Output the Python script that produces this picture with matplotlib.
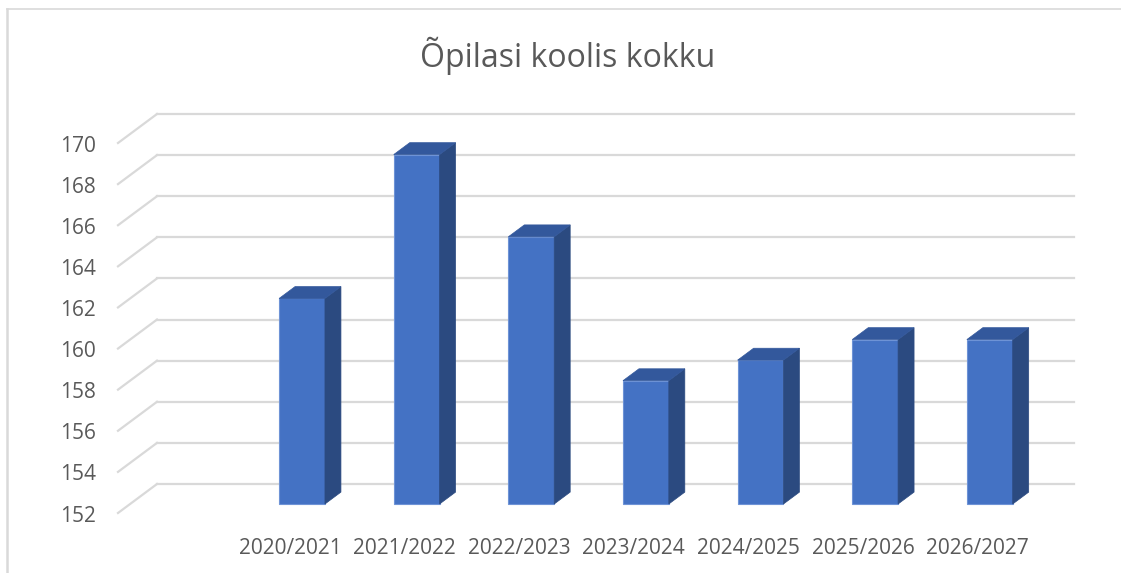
import matplotlib
matplotlib.use("Agg")
import matplotlib.pyplot as plt
from matplotlib.patches import Polygon, Rectangle
from matplotlib.transforms import ScaledTranslation
from matplotlib.lines import Line2D

# ---- data ----
categories = ["2020/2021", "2021/2022", "2022/2023", "2023/2024",
              "2024/2025", "2025/2026", "2026/2027"]
values = [162, 169, 165, 158, 159, 160, 160]
yticks = [152, 154, 156, 158, 160, 162, 164, 166, 168, 170]
title = "Õpilasi koolis kokku"

FONT = "Open Sans"
TXT = "#595959"
GRID = "#d9d9d9"
FRONT = "#4472C4"
SIDE = "#2B4A80"
TOP = "#33589C"

W, H = 1121, 573
fig = plt.figure(figsize=(W / 100, H / 100), dpi=100)
fig.patch.set_facecolor("white")

# front plane of the 3-D box in pixel positions
left_px, right_px = 118, 1035
bot_px, top_px = 513, 143
ax = fig.add_axes([left_px / W, 1 - bot_px / H,
                   (right_px - left_px) / W, (bot_px - top_px) / H])
ax.set_xlim(-0.5, len(categories) + 0.5)   # one empty leading slot
ax.set_ylim(yticks[0], yticks[-1])
ax.axis("off")

DX, DY = 0.39, 0.29  # depth offset in inches (full depth)


def depth(d):
    return ax.transData + ScaledTranslation(DX * d, DY * d, fig.dpi_scale_trans)


x0, x1 = ax.get_xlim()
# gridlines: diagonal on the left wall + horizontal on back wall
for v in yticks:
    p0 = depth(0).transform((x0, v))
    p1 = depth(1).transform((x0, v))
    fig.add_artist(Line2D([p0[0], p1[0]], [p0[1], p1[1]], color=GRID, lw=1.6,
                          transform=None, zorder=1))
    ax.add_line(Line2D([x0, x1], [v, v], color=GRID, lw=1.6, zorder=1,
                       transform=depth(1), clip_on=False))

# bars (oblique 3-D columns)
bw = 0.40          # bar width in category units
d_front, d_back = 0.31, 0.72
base = yticks[0]
for i, v in enumerate(values):
    xc = i + 1
    xl, xr = xc - bw / 2, xc + bw / 2
    tf = depth(d_front)
    tb = depth(d_back)
    # side face
    pts_side = [tf.transform((xr, base)), tb.transform((xr, base)),
                tb.transform((xr, v)), tf.transform((xr, v))]
    fig.add_artist(Polygon(pts_side, closed=True, transform=None,
                           facecolor=SIDE, edgecolor=SIDE, lw=0.5, zorder=3))
    # top face
    pts_top = [tf.transform((xl, v)), tf.transform((xr, v)),
               tb.transform((xr, v)), tb.transform((xl, v))]
    fig.add_artist(Polygon(pts_top, closed=True, transform=None,
                           facecolor=TOP, edgecolor=TOP, lw=0.5, zorder=3))
    # front face
    ax.add_patch(Rectangle((xl, base), bw, v - base, transform=tf,
                           facecolor=FRONT, edgecolor="#6E93D6", lw=0.8,
                           zorder=4, clip_on=False))

# y tick labels on the front plane
for v in yticks:
    ax.text(-0.5, v, str(v),
            transform=ax.transData + ScaledTranslation(-0.22, -0.03, fig.dpi_scale_trans),
            ha="right", va="center", fontsize=15, color=TXT, family=FONT)

# category labels
for i, c in enumerate(categories):
    ax.text(i + 1, base, c,
            transform=ax.transData + ScaledTranslation(0, -0.35, fig.dpi_scale_trans),
            ha="center", va="center", fontsize=15, color=TXT, family=FONT)

# title
fig.text(568 / W, 1 - 56 / H, title, ha="center", va="center",
         fontsize=23, color=TXT, family=FONT)

# chart frame (left and top edges visible)
fig.add_artist(Line2D([7 / W, 7 / W], [0, 1 - 9 / H], color="#d9d9d9", lw=1.8))
fig.add_artist(Line2D([7 / W, 1], [1 - 9 / H, 1 - 9 / H], color="#d9d9d9", lw=1.2))

fig.savefig("out.png", dpi=100, facecolor="white")
